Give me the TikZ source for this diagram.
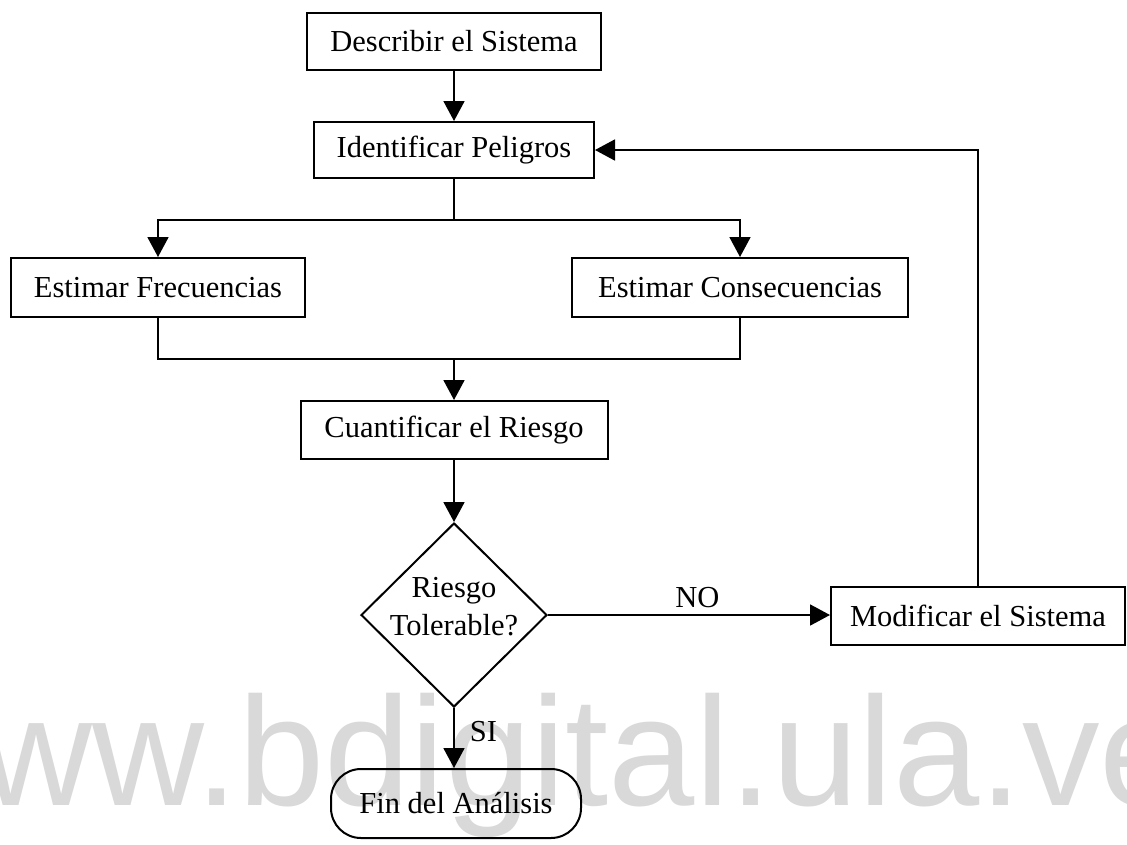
\documentclass[tikz,border=0pt]{standalone}
\usepackage{fontspec}
\setmainfont{Liberation Serif}
\newfontfamily\wmfont{Liberation Sans}
\usetikzlibrary{arrows.meta,shapes.geometric}
\definecolor{wmgray}{RGB}{217,217,217}
\newcommand{\fs}{\fontsize{30.5}{38}\selectfont}
\tikzset{
  box/.style={draw, line width=2pt, inner sep=0pt, font=\fs},
  conn/.style={line width=1.8pt},
  arr/.style={conn, -{Triangle[length=20pt,width=21pt]}},
}
\begin{document}
\begin{tikzpicture}[x=1pt,y=-1pt]
\useasboundingbox (0,0) rectangle (1127,844);
\clip (0,0) rectangle (1127,844);
\fill[white] (0,0) rectangle (1127,844);
% watermark
\node[anchor=base west, font=\wmfont\fontsize{155}{155}\selectfont, text=wmgray, inner sep=0pt] (wm) at (-132,805) {www.bdigital.ula.ve};
% nodes
\node[box, minimum width=294pt, minimum height=57pt] (desc) at (454,41.5) {Describir el Sistema};
\node[box, minimum width=280pt, minimum height=56pt] (iden) at (454,150) {Identificar Peligros};
\node[box, minimum width=294pt, minimum height=59pt] (ef) at (158,287.5) {Estimar Frecuencias};
\node[box, minimum width=336pt, minimum height=59pt] (ec) at (740,287.5) {Estimar Consecuencias};
\node[box, minimum width=307pt, minimum height=58pt] (cuan) at (454,430) {Cuantificar el Riesgo};
\node[diamond, draw, line width=2pt, minimum width=186pt, minimum height=184pt, inner sep=0pt] (dec) at (454,615) {};
\node[font=\fs, align=center, inner sep=0pt] (dectext) at (454,607) {Riesgo\\Tolerable?};
\node[box, minimum width=294pt, minimum height=58pt] (mod) at (978,616) {Modificar el Sistema};
\node[box, rounded corners=30pt, minimum width=250pt, minimum height=69pt] (fin) at (456,803.5) {Fin del Análisis};
% helper coordinates
\coordinate (sp) at (0,220);
\coordinate (mg) at (0,359);
% connectors
\draw[arr] (desc.south) -- (desc.south |- iden.north);
\draw[conn] (iden.south) -- (iden.south |- sp);
\draw[arr] (iden.south |- sp) -| (ef.north);
\draw[arr] (iden.south |- sp) -| (ec.north);
\draw[conn] (ef.south) -- (ef.south |- mg) -- (ec.south |- mg) -- (ec.south);
\draw[arr] (cuan.north |- mg) -- (cuan.north);
\draw[arr] (cuan.south) -- (dec.north);
\draw[arr] (dec.east) -- node[pos=0.53, above=6pt, font=\fs, inner sep=0pt] (nolab) {NO} (dec.east -| mod.west);
\draw[arr] (dec.south) -- node[pos=0.39, right=15pt, font=\fs, inner sep=0pt, anchor=west] (silab) {SI} (dec.south |- fin.north);
\draw[arr] (mod.north) |- (iden.east);
\end{tikzpicture}
\end{document}
